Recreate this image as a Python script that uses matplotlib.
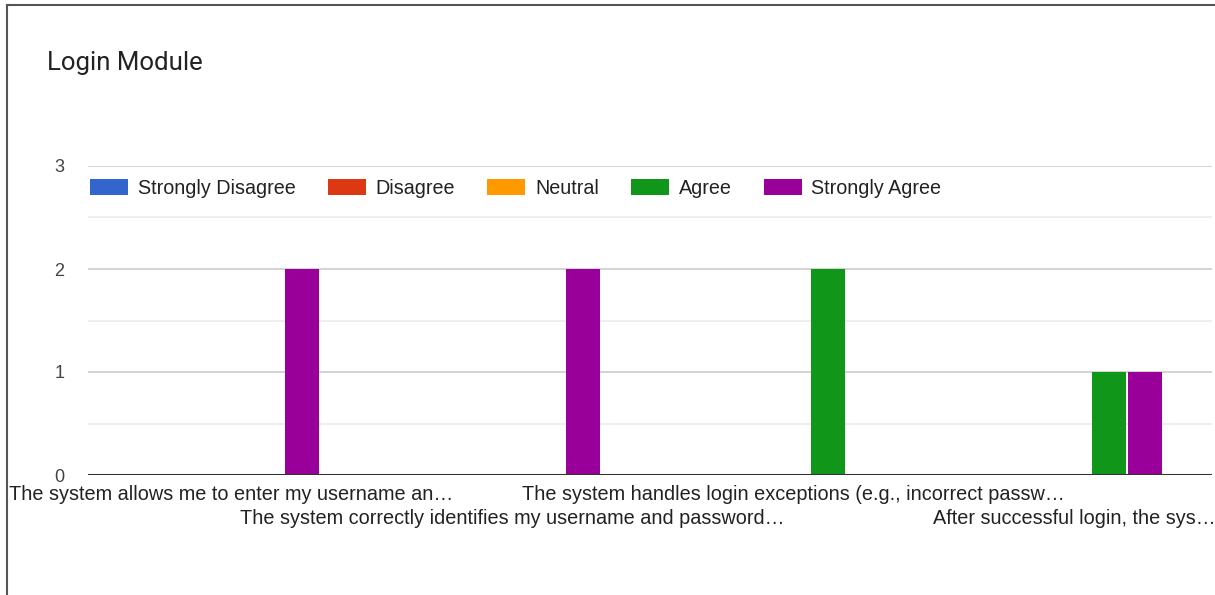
import matplotlib
matplotlib.use("Agg")
import matplotlib.pyplot as plt
from matplotlib.lines import Line2D
from matplotlib.patches import Patch
import numpy as np

categories = [
    "The system allows me to enter my username an\u2026",
    "The system correctly identifies my username and password\u2026",
    "The system handles login exceptions (e.g., incorrect passw\u2026",
    "After successful login, the sys\u2026",
]
series_names = ["Strongly Disagree", "Disagree", "Neutral", "Agree", "Strongly Agree"]
series_values = {
    "Strongly Disagree": [0, 0, 0, 0],
    "Disagree": [0, 0, 0, 0],
    "Neutral": [0, 0, 0, 0],
    "Agree": [0, 0, 2, 1],
    "Strongly Agree": [2, 2, 0, 1],
}
colors = ["#3366cc", "#dc3912", "#ff9900", "#109618", "#990099"]
title = "Login Module"

W, H = 1215, 595
fig = plt.figure(figsize=(W / 100, H / 100), dpi=100)
fig.patch.set_facecolor("white")

ax = fig.add_axes([88 / W, (H - 475) / H, 1124 / W, 309 / H])
ax.set_xlim(-0.5, 3.5)
ax.set_ylim(0, 3)

x = np.arange(len(categories))
step = 36 / 281
bw = 34 / 281
for k, name in enumerate(series_names):
    vals = series_values[name]
    ax.bar(x + (k - 2) * step + 1 / 281, vals, width=bw, color=colors[k], zorder=3, linewidth=0)

for s in ax.spines.values():
    s.set_visible(False)
ax.axhline(0, color="#333333", lw=1.5, zorder=4)
for y in [1, 2, 3]:
    ax.axhline(y, color="#cccccc", lw=1.2, zorder=1)
for y in [0.5, 1.5, 2.5]:
    ax.axhline(y, color="#ebebeb", lw=1.2, zorder=1)

ax.set_yticks([0, 1, 2, 3])
ax.set_yticklabels(["0", "1", "2", "3"], fontsize=13, color="#444444", family="Liberation Sans")
for t in ax.get_yticklabels():
    t.set_verticalalignment("center_baseline")
ax.tick_params(axis="y", length=0, pad=17)
ax.set_xticks([])

for i, lab in enumerate(categories):
    yoff = -0.062 if i % 2 == 0 else -0.142
    ax.text(i + 3 / 281, yoff, lab, transform=ax.get_xaxis_transform(), ha="center", va="center",
            fontsize=14.3, color="#222222", family="Liberation Sans", clip_on=False)

fig.text(47 / W, 1 - 63 / H, title, fontsize=18.5, color="#222222", family="Roboto",
         ha="left", va="center")

handles = [Patch(facecolor=c, edgecolor="none") for c in colors]
leg = fig.legend(handles, series_names, loc="center left", bbox_to_anchor=(90 / W, 1 - 188 / H),
                 ncol=5, frameon=False, borderpad=0, borderaxespad=0,
                 handlelength=1.93, handleheight=0.86, handletextpad=0.5,
                 columnspacing=1.62, prop={"family": "Liberation Sans", "size": 14.2})
for t in leg.get_texts():
    t.set_color("#222222")

fig.add_artist(Line2D([7 / W, 7 / W], [0, 1 - 5 / H], color="#555555", lw=1.5))
fig.add_artist(Line2D([7 / W, 1], [1 - 5 / H, 1 - 5 / H], color="#555555", lw=1.5))

fig.savefig("out.png", dpi=100)
